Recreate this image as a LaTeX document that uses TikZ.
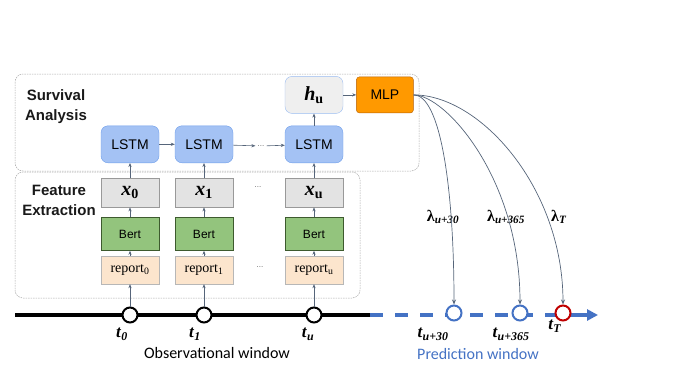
\documentclass[tikz,border=0pt]{standalone}
\usepackage{fontspec}
\setmainfont{Liberation Serif}
\newfontfamily\arialfont{Liberation Sans}
\newfontfamily\calibrifont{Carlito}
\usepackage{xcolor}
\usetikzlibrary{arrows.meta, positioning, calc}

\definecolor{lstmfill}{HTML}{A4C2F4}
\definecolor{lstmedge}{HTML}{6D9EEB}
\definecolor{hidfill}{HTML}{EFEFEF}
\definecolor{mlpfill}{HTML}{FF9900}
\definecolor{mlpedge}{HTML}{B45F06}
\definecolor{featfill}{HTML}{E3E3E3}
\definecolor{bertfill}{HTML}{93C47D}
\definecolor{bertedge}{HTML}{3D5A2E}
\definecolor{repfill}{HTML}{FCE5CD}
\definecolor{repedge}{HTML}{B7B7B7}
\definecolor{arrowgray}{HTML}{56657A}
\definecolor{predblue}{HTML}{4472C4}
\definecolor{endred}{HTML}{C00000}

\newcommand{\vecsub}[2]{\textbf{\textit{#1}}\textsubscript{\textbf{#2}}}
\newcommand{\timesub}[2]{\textbf{\textit{#1}}\textsubscript{\textbf{\textit{#2}}}}

\begin{document}
\begin{tikzpicture}[
  x=1pt, y=-1pt,
  panel/.style={draw=gray!70, dash pattern=on 1.5pt off 1pt, line width=0.5pt, rounded corners=8pt},
  lstmbox/.style={rectangle, rounded corners=7pt, minimum width=58pt, minimum height=37pt, draw=lstmedge, fill=lstmfill, font=\arialfont\fontsize{14}{16}\selectfont},
  hidbox/.style={rectangle, rounded corners=7pt, minimum width=58pt, minimum height=37pt, draw=lstmedge!70, fill=hidfill, font=\fontsize{20}{22}\selectfont},
  mlpbox/.style={rectangle, rounded corners=3pt, minimum width=57pt, minimum height=36pt, draw=mlpedge, fill=mlpfill, font=\arialfont\fontsize{14}{16}\selectfont},
  featbox/.style={rectangle, minimum width=58pt, minimum height=29pt, draw=gray!80, fill=featfill, font=\fontsize{20}{22}\selectfont},
  bertbox/.style={rectangle, minimum width=58pt, minimum height=33pt, draw=bertedge, fill=bertfill, font=\arialfont\fontsize{12}{14}\selectfont},
  repbox/.style={rectangle, minimum width=58pt, minimum height=28pt, draw=repedge, fill=repfill, font=\fontsize{14}{16}\selectfont},
  dotsnode/.style={inner sep=2pt, text=gray!80!black, font=\arialfont\fontsize{8}{8}\selectfont},
  title/.style={align=center, text=black!90, font=\arialfont\bfseries\fontsize{15}{20}\selectfont},
  tick/.style={circle, minimum size=15pt, inner sep=0pt, line width=2pt, fill=white},
  tlabel/.style={font=\fontsize{17}{19}\selectfont},
  lambdalabel/.style={font=\fontsize{16}{18}\selectfont},
  arrow/.style={draw=arrowgray, line width=0.6pt, -{Stealth[length=4pt, width=3.2pt]}},
  rate/.style={draw=arrowgray, line width=0.7pt, -{Stealth[length=5pt, width=4pt]}}
]
\useasboundingbox (0,0) rectangle (675,380);

% panels
\draw [panel] (15,74) rectangle (419,171);
\draw [panel] (15,172) rectangle (360,298);
\node (survtitle) [title] at (56,107) {Survival\\Analysis};
\node (feattitle) [title] at (59,200) {Feature\\Extraction};

% feature columns
\node (rep0) [repbox] at (130,270) {report\textsubscript{0}};
\node (bert0) [bertbox, above=5pt of rep0] {Bert};
\node (x0) [featbox, above=10pt of bert0] {\vecsub{x}{0}};
\node (lstm0) [lstmbox, above=15pt of x0] {LSTM};

\node (rep1) [repbox] at (204,270) {report\textsubscript{1}};
\node (bert1) [bertbox, above=5pt of rep1] {Bert};
\node (x1) [featbox, above=10pt of bert1] {\vecsub{x}{1}};
\node (lstm1) [lstmbox, above=15pt of x1] {LSTM};

\node (repu) [repbox] at (314,270) {report\textsubscript{u}};
\node (bertu) [bertbox, above=5pt of repu] {Bert};
\node (xu) [featbox, above=10pt of bertu] {\vecsub{x}{u}};
\node (lstmu) [lstmbox, above=15pt of xu] {LSTM};
\node (hu) [hidbox, above=12pt of lstmu] {\vecsub{h}{u}};
\node (mlp) [mlpbox, right=13pt of hu] {MLP};

\node (lstmdots) [dotsnode] at (261,146) {...};
\node (xdots) [dotsnode] at (258,187) {...};
\node (repdots) [dotsnode] at (260,267) {...};

% timeline
\coordinate (tlstart) at (15,315);
\coordinate (tlsplit) at (370,315);
\coordinate (tlend) at (598,315);
\draw [line width=4pt] (tlstart) -- (tlsplit);
\draw [predblue, line width=4pt, dash pattern=on 13pt off 12pt] (tlsplit) -- ($(tlend)+(-12,0)$);
\draw [predblue, line width=4pt, -{Triangle[length=11pt, width=11pt]}] ($(tlend)+(-26,0)$) -- (tlend);

\node (t0) [tick, draw=black] at (130,315) {};
\node (t1) [tick, draw=black] at (204,315) {};
\node (tu) [tick, draw=black] at (314,315) {};
\node (tp30) [tick, draw=predblue] at (454,313) {};
\node (tp365) [tick, draw=predblue] at (520,313) {};
\node (tT) [tick, draw=endred] at (563,313) {};

\node (t0lab) [tlabel] at (122,334) {\timesub{t}{0}};
\node (t1lab) [tlabel] at (195,334) {\timesub{t}{1}};
\node (tulab) [tlabel] at (308,334) {\timesub{t}{u}};
\node (tp30lab) [tlabel] at (433,334) {\timesub{t}{u+30}};
\node (tp365lab) [tlabel] at (511,334) {\timesub{t}{u+365}};
\node (tTlab) [tlabel] at (555,326) {\timesub{t}{T}};

\node (obswin) [font=\calibrifont\fontsize{16}{18}\selectfont] at (217,353) {Observational window};
\node (predwin) [font=\calibrifont\fontsize{16}{18}\selectfont, text=predblue] at (478,354) {Prediction window};

% rates
\node (lam30) [lambdalabel] at (443,217) {\textbf{λ}\textsubscript{\textbf{\textit{u+30}}}};
\node (lam365) [lambdalabel] at (506,217) {\textbf{λ}\textsubscript{\textbf{\textit{u+365}}}};
\node (lamT) [lambdalabel] at (559,217) {\textbf{λ}\textsubscript{\textbf{\textit{T}}}};

% arrows
\draw [arrow] (t0) -- (rep0);
\draw [arrow] (rep0) -- (bert0);
\draw [arrow] (bert0) -- (x0);
\draw [arrow] (x0) -- (lstm0);
\draw [arrow] (t1) -- (rep1);
\draw [arrow] (rep1) -- (bert1);
\draw [arrow] (bert1) -- (x1);
\draw [arrow] (x1) -- (lstm1);
\draw [arrow] (tu) -- (repu);
\draw [arrow] (repu) -- (bertu);
\draw [arrow] (bertu) -- (xu);
\draw [arrow] (xu) -- (lstmu);
\draw [arrow] (lstm0) -- (lstm1);
\draw [arrow] (lstm1) -- (lstmdots);
\draw [arrow] (lstmdots) -- (lstmu);
\draw [arrow] (lstmu) -- (hu);
\draw [arrow] (hu) -- (mlp);
\draw [rate] (mlp.east) .. controls +(27,0) and +(0,-116) .. (tp30.north);
\draw [rate] (mlp.east) .. controls +(32,0) and +(0,-126) .. (tp365.north);
\draw [rate] (mlp.east) .. controls +(67,0) and +(0,-116) .. (tT.north);
\end{tikzpicture}
\end{document}
